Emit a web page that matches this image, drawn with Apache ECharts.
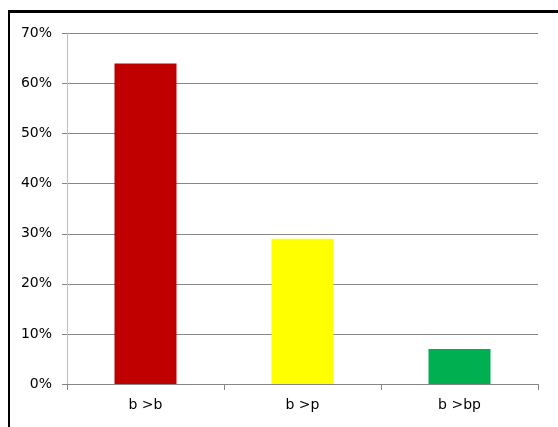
<!DOCTYPE html>
<html>
<head>
<meta charset="utf-8">
<script src="https://cdn.jsdelivr.net/npm/echarts@6/dist/echarts.min.js"></script>
<style>
  html, body { margin: 0; padding: 0; background: #fff; }
  #chart { width: 558px; height: 427px; }
</style>
</head>
<body>
<div id="chart"></div>
<script>
// Share of each transition type, in percent
const categories = ['b >b', 'b >p', 'b >bp'];
const shares = [64, 29, 7];
const barColors = ['#C00000', '#FFFF00', '#00B050'];
const yTicks = [0, 10, 20, 30, 40, 50, 60, 70];

const chart = echarts.init(document.getElementById('chart'), null, { renderer: 'canvas' });

const labelFont = { fontFamily: 'DejaVu Sans', fontSize: 14, color: '#000' };

chart.setOption({
  animation: false,
  backgroundColor: '#fff',
  grid: { left: 67, right: 20, top: 33.5, bottom: 43 },
  xAxis: {
    type: 'category',
    data: categories,
    axisLine: { lineStyle: { color: '#868686', width: 1 } },
    axisTick: { show: true, length: 6, lineStyle: { color: '#868686' } },
    axisLabel: Object.assign({ margin: 14 }, labelFont)
  },
  yAxis: {
    type: 'value',
    min: yTicks[0],
    max: yTicks[yTicks.length - 1],
    interval: 10,
    axisLine: { show: true, lineStyle: { color: '#BFBFBF', width: 1 } },
    axisTick: { show: true, length: 5, lineStyle: { color: '#868686' } },
    splitLine: { show: true, lineStyle: { color: '#868686', width: 1 } },
    axisLabel: Object.assign({ margin: 15, formatter: '{value}%' }, labelFont)
  },
  series: [{
    type: 'bar',
    barWidth: '39.5%',
    data: shares.map((v, i) => ({ value: v, itemStyle: { color: barColors[i] } }))
  }],
  graphic: [
    { type: 'line', shape: { x1: 9, y1: 10, x2: 9, y2: 427 }, style: { stroke: '#000', lineWidth: 2 }, z: 100 },
    { type: 'line', shape: { x1: 8, y1: 11.5, x2: 558, y2: 11.5 }, style: { stroke: '#000', lineWidth: 3 }, z: 100 }
  ]
});
</script>
</body>
</html>
